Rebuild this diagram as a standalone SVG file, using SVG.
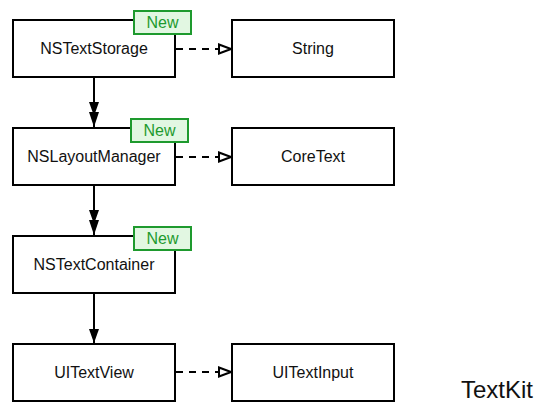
<svg xmlns="http://www.w3.org/2000/svg" width="549" height="416" viewBox="0 0 549 416">
<defs>
<style>
.box{fill:#fff;stroke:#000;stroke-width:2}
.lbl{font-family:"Liberation Sans",Arial,sans-serif;font-size:16px;fill:#111;text-anchor:middle}
.badge{fill:#e2f7e2;stroke:#1e9a2e;stroke-width:2}
.new{font-family:"Liberation Sans",Arial,sans-serif;font-size:16px;fill:#1e9a2e;text-anchor:middle}
.solid{stroke:#000;stroke-width:2;fill:none}
.dash{stroke:#000;stroke-width:2;fill:none;stroke-dasharray:7,6}
</style>
<marker id="open" viewBox="0 0 14 12" refX="13" refY="6" markerWidth="14" markerHeight="12" markerUnits="userSpaceOnUse" orient="auto">
<path d="M1,1.5 L13,6 L1,10.5 Z" fill="#fff" stroke="#000" stroke-width="2"/>
</marker>
<marker id="fill" viewBox="0 0 14 10" refX="14" refY="5" markerWidth="14" markerHeight="10" markerUnits="userSpaceOnUse" orient="auto">
<path d="M0,0 L14,5 L0,10 Z" fill="#000"/>
</marker>
<marker id="dbl" viewBox="0 0 25 10" refX="25" refY="5" markerWidth="25" markerHeight="10" markerUnits="userSpaceOnUse" orient="auto">
<path d="M0,0 L14,5 L0,10 Z M10,0 L25,5 L10,10 Z" fill="#000"/>
</marker>
</defs>
<g id="connectors">
<line class="solid" x1="94" y1="77" x2="94" y2="127" marker-end="url(#dbl)"/>
<line class="solid" x1="94" y1="185" x2="94" y2="235" marker-end="url(#dbl)"/>
<line class="solid" x1="94" y1="293" x2="94" y2="343" marker-end="url(#fill)"/>
<line class="dash" x1="176" y1="49" x2="231" y2="49" marker-end="url(#open)"/>
<line class="dash" x1="176" y1="157" x2="231" y2="157" marker-end="url(#open)"/>
<line class="dash" x1="176" y1="372" x2="231" y2="372" marker-end="url(#open)"/>
</g>
<g id="NSTextStorage">
<rect class="box" x="13" y="20" width="162" height="57"/>
<text class="lbl" x="94" y="54">NSTextStorage</text>
</g>
<g id="badge1">
<rect class="badge" x="134" y="11" width="57" height="23"/>
<text class="new" x="162.5" y="28">New</text>
</g>
<g id="String">
<rect class="box" x="232" y="20" width="162" height="57"/>
<text class="lbl" x="313" y="54">String</text>
</g>
<g id="NSLayoutManager">
<rect class="box" x="13" y="128" width="162" height="57"/>
<text class="lbl" x="94" y="162">NSLayoutManager</text>
</g>
<g id="badge2">
<rect class="badge" x="131" y="119" width="57" height="23"/>
<text class="new" x="159.5" y="136">New</text>
</g>
<g id="CoreText">
<rect class="box" x="232" y="128" width="162" height="57"/>
<text class="lbl" x="313" y="162">CoreText</text>
</g>
<g id="NSTextContainer">
<rect class="box" x="13" y="236" width="162" height="57"/>
<text class="lbl" x="94" y="270">NSTextContainer</text>
</g>
<g id="badge3">
<rect class="badge" x="134" y="227" width="57" height="23"/>
<text class="new" x="162.5" y="244">New</text>
</g>
<g id="UITextView">
<rect class="box" x="13" y="344" width="162" height="57"/>
<text class="lbl" x="94" y="378">UITextView</text>
</g>
<g id="UITextInput">
<rect class="box" x="232" y="344" width="162" height="57"/>
<text class="lbl" x="313" y="378">UITextInput</text>
</g>
<text x="461" y="398" font-family="'Liberation Sans',Arial,sans-serif" font-size="24" fill="#111">TextKit</text>
</svg>
